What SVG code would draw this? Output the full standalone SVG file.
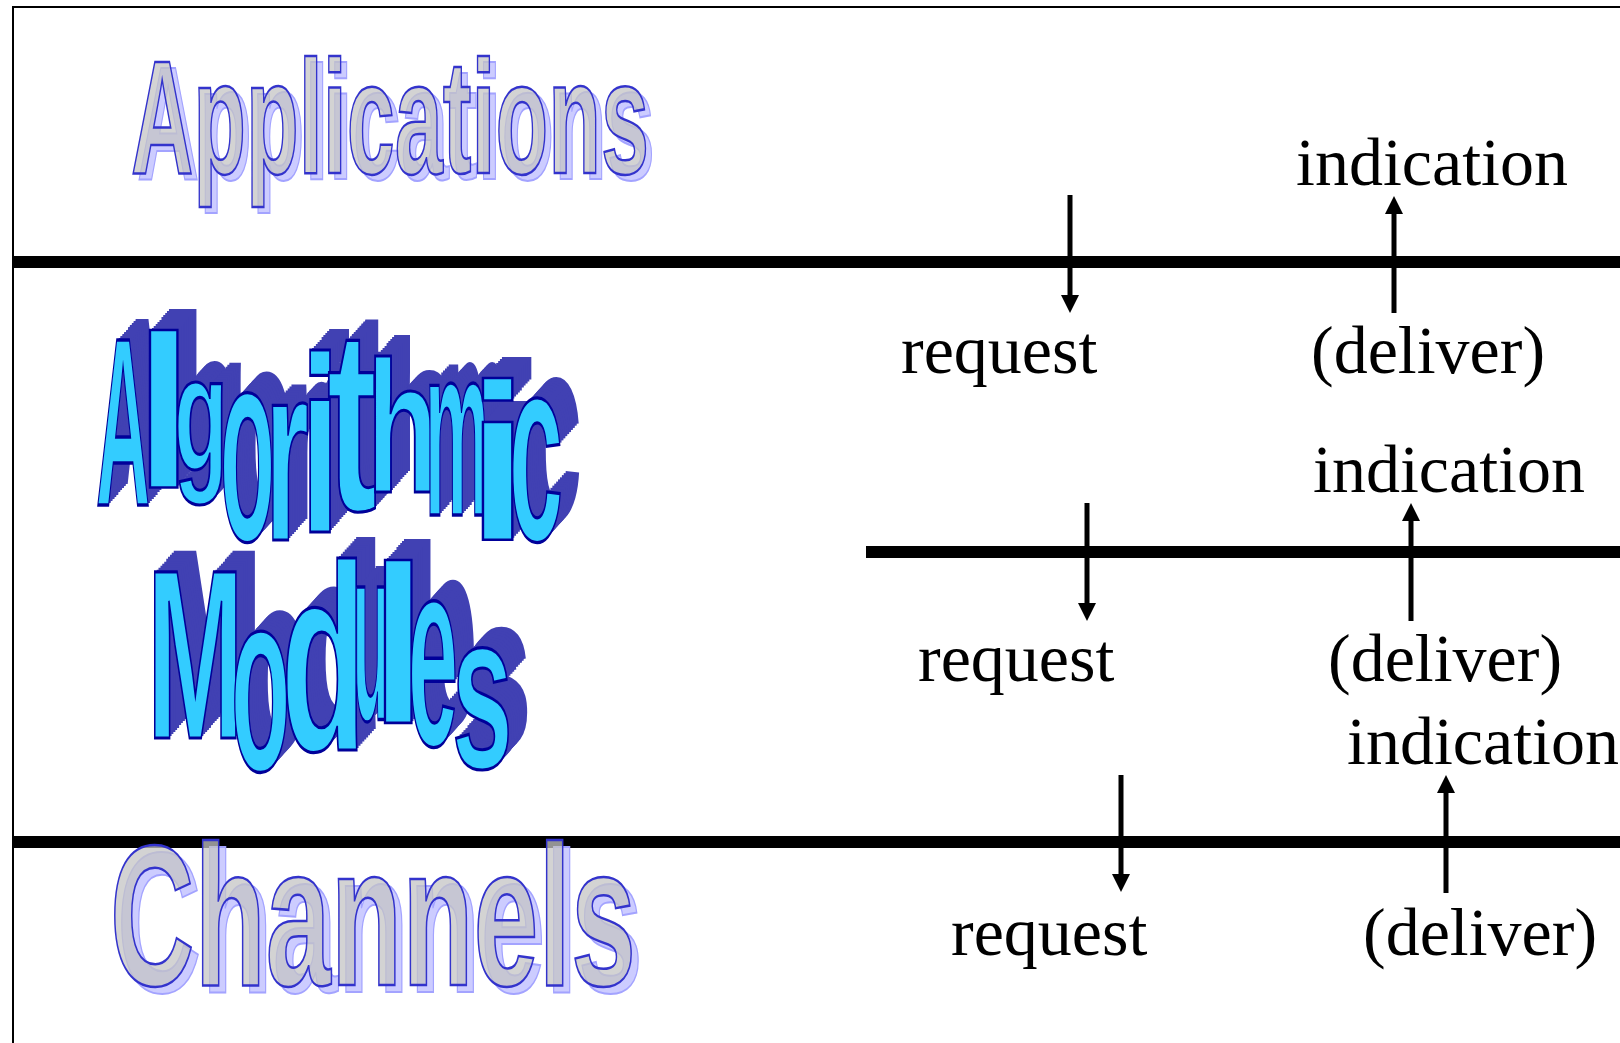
<svg xmlns="http://www.w3.org/2000/svg" xmlns:xlink="http://www.w3.org/1999/xlink" width="1620" height="1043" viewBox="0 0 1620 1043">
<style>
.layer{stroke:#000;stroke-width:12;fill:none}
.frame{stroke:#000;stroke-width:2;fill:none}
.arrow{stroke:#000;stroke-width:5;fill:none;marker-end:url(#ah)}
.prim{font-family:"Liberation Serif","Times New Roman",serif;font-size:68px;fill:#000}
.wa{font-family:"Liberation Sans",Arial,sans-serif;font-weight:bold}
.wa-shadow{fill:#ccccff;stroke:#a3a3ff;stroke-width:2}
.wa-front{fill:#c4c4c4;fill-opacity:.75;stroke:#3333cc;stroke-width:2.5}
.wv{vector-effect:non-scaling-stroke}
.ext{fill:#4141b3;stroke:none}
.cy{fill:#33ccff;stroke:#000099;stroke-width:2.5}
</style>
<defs>
<marker id="ah" viewBox="0 0 18 18" refX="0" refY="9" markerWidth="18" markerHeight="18" markerUnits="userSpaceOnUse" orient="auto">
<path d="M0,0 L18,9 L0,18 z" fill="#000"/>
</marker>
<g id="algo-glyphs" class="wa" font-size="100">
<text class="wv" transform="matrix(0.75 0 0 2.40 96 505)">A</text>
<text class="wv" transform="matrix(2.0 0 0 2.165 136 488)">l</text>
<text class="wv" transform="matrix(0.88 0 0 1.64 174 470)">g</text>
<text class="wv" transform="matrix(0.9 0 0 2.74 220 540)">o</text>
<text class="wv" transform="matrix(1.13 0 0 2.55 265 540)">r</text>
<text class="wv" transform="matrix(1.45 0 0 2.51 300 532)">i</text>
<text class="wv" transform="matrix(1.5 0 0 2.6 327 510)">t</text>
<text class="wv" transform="matrix(1.16 0 0 1.87 367 492)">h</text>
<text class="wv" transform="matrix(0.72 0 0 2.45 425 515)">m</text>
<text class="wv" transform="matrix(2.14 0 0 2.23 468 540)">i</text>
<text class="wv" transform="matrix(0.97 0 0 2.64 509 540)">c</text>
<text class="wv" transform="matrix(1.16 0 0 2.42 147 738)">M</text>
<text class="wv" transform="matrix(0.97 0 0 2.58 231 770)">o</text>
<text class="wv" transform="matrix(1.39 0 0 2.65 281 750)">d</text>
<text class="wv" transform="matrix(0.6 0 0 2.5 353 720)">u</text>
<text class="wv" transform="matrix(1.93 0 0 2.25 371.5 723)">l</text>
<text class="wv" transform="matrix(0.9 0 0 2.68 408 745)">e</text>
<text class="wv" transform="matrix(1.09 0 0 2.23 452 768)">s</text>
</g>
</defs>
<rect width="1620" height="1043" fill="#fff"/>
<g id="frame">
<rect class="frame" x="13" y="7" width="1640" height="1060"/>
<line class="layer" x1="13" y1="262" x2="1620" y2="262"/>
<line class="layer" x1="866" y1="552" x2="1620" y2="552"/>
<line class="layer" x1="13" y1="842" x2="1620" y2="842"/>
</g>
<g id="label-applications" class="wa" font-size="162">
<text class="wa-shadow" x="137" y="179" textLength="518" lengthAdjust="spacingAndGlyphs">Applications</text>
<text class="wa-front" x="131" y="173" textLength="518" lengthAdjust="spacingAndGlyphs">Applications</text>
</g>
<g id="label-algorithmic-modules">
<use xlink:href="#algo-glyphs" class="ext" x="19" y="-21"/>
<use xlink:href="#algo-glyphs" class="ext" x="17.1" y="-18.9"/>
<use xlink:href="#algo-glyphs" class="ext" x="15.2" y="-16.8"/>
<use xlink:href="#algo-glyphs" class="ext" x="13.3" y="-14.7"/>
<use xlink:href="#algo-glyphs" class="ext" x="11.4" y="-12.6"/>
<use xlink:href="#algo-glyphs" class="ext" x="9.5" y="-10.5"/>
<use xlink:href="#algo-glyphs" class="ext" x="7.6" y="-8.4"/>
<use xlink:href="#algo-glyphs" class="ext" x="5.7" y="-6.3"/>
<use xlink:href="#algo-glyphs" class="ext" x="3.8" y="-4.2"/>
<use xlink:href="#algo-glyphs" class="ext" x="1.9" y="-2.1"/>
<use xlink:href="#algo-glyphs" class="cy"/>
</g>
<g id="label-channels" class="wa" font-size="200">
<text class="wa-shadow" x="117" y="992" textLength="526" lengthAdjust="spacingAndGlyphs">Channels</text>
<text class="wa-front" x="110" y="985" textLength="526" lengthAdjust="spacingAndGlyphs">Channels</text>
</g>
<g id="connectors">
<line class="arrow" x1="1070" y1="195" x2="1070" y2="295"/>
<line class="arrow" x1="1394" y1="313" x2="1394" y2="214"/>
<line class="arrow" x1="1087" y1="503" x2="1087" y2="603"/>
<line class="arrow" x1="1411" y1="621" x2="1411" y2="521"/>
<line class="arrow" x1="1121" y1="775" x2="1121" y2="874"/>
<line class="arrow" x1="1446" y1="893" x2="1446" y2="793"/>
</g>
<g id="interface-applications">
<text class="prim" x="1296" y="185">indication</text>
<text class="prim" x="901" y="373">request</text>
<text class="prim" x="1311" y="373">(deliver)</text>
</g>
<g id="interface-modules">
<text class="prim" x="1313" y="492">indication</text>
<text class="prim" x="918" y="681">request</text>
<text class="prim" x="1328" y="681">(deliver)</text>
</g>
<g id="interface-channels">
<text class="prim" x="1347" y="764">indication</text>
<text class="prim" x="951" y="955">request</text>
<text class="prim" x="1363" y="955">(deliver)</text>
</g>
</svg>
